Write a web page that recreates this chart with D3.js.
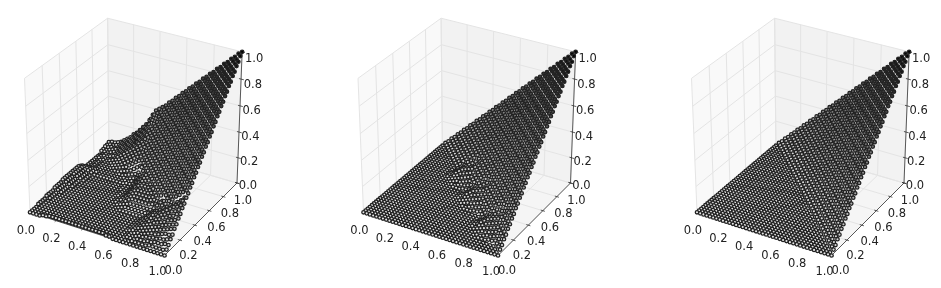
<!DOCTYPE html>
<html>
<head>
<meta charset="utf-8">
<script src="https://cdn.jsdelivr.net/npm/d3@7"></script>
<style>
  html, body { margin: 0; padding: 0; background: #fff; }
  svg { display: block; filter: blur(0.45px); }
  .dots { filter: blur(0.6px); }
  text { font-family: "DejaVu Sans", sans-serif; font-size: 11.5px; fill: #222; }
</style>
</head>
<body>
<div id="chart"></div>
<script>
var tickValues = [0, 0.2, 0.4, 0.6, 0.8, 1.0];
var tickLabels = ["0.0", "0.2", "0.4", "0.6", "0.8", "1.0"];

// surface height in hundredths, one row per y step (0..40), one column per x step (0..40)
var baseSurface = [
[0,0,0,0,0,0,0,0,0,0,0,0,0,0,0,0,0,0,0,0,0,0,0,0,0,0,0,0,0,0,0,0,0,0,0,0,0,0,0,0,0],
[0,0,0,0,0,0,0,0,0,0,0,0,0,0,0,0,0,0,0,0,0,0,0,0,0,0,0,0,0,0,0,0,0,0,0,0,0,0,0,0,3],
[0,0,0,0,0,0,0,0,0,0,0,0,0,0,0,0,0,0,0,0,0,0,0,0,0,0,0,0,0,0,0,0,0,0,0,0,0,0,0,3,5],
[0,0,0,0,0,0,0,0,0,0,0,0,0,0,0,0,0,0,0,0,0,0,0,0,0,0,0,0,0,0,0,0,0,0,0,0,0,0,3,5,8],
[0,0,0,0,0,0,0,0,0,0,0,0,0,0,0,0,0,0,0,0,0,0,0,0,0,0,0,0,0,0,0,0,0,0,0,0,0,3,5,8,10],
[0,0,0,0,0,0,0,0,0,0,0,0,0,0,0,0,0,0,0,0,0,0,0,0,0,0,0,0,0,0,0,0,0,0,0,0,3,5,8,10,13],
[0,0,0,0,0,0,0,0,0,0,0,0,0,0,0,0,0,0,0,0,0,0,0,0,0,0,0,0,0,0,0,0,0,0,0,3,5,8,10,13,15],
[0,0,0,0,0,0,0,0,0,0,0,0,0,0,0,0,0,0,0,0,0,0,0,0,0,0,0,0,0,0,0,0,0,0,3,5,8,10,13,15,18],
[0,0,0,0,0,0,0,0,0,0,0,0,0,0,0,0,0,0,0,0,0,0,0,0,0,0,0,0,0,0,0,0,0,3,5,8,10,13,15,18,20],
[0,0,0,0,0,0,0,0,0,0,0,0,0,0,0,0,0,0,0,0,0,0,0,0,0,0,0,0,0,0,0,0,3,5,8,10,13,15,18,20,23],
[0,0,0,0,0,0,0,0,0,0,0,0,0,0,0,0,0,0,0,0,0,0,0,0,0,0,0,0,0,0,0,3,5,8,10,13,15,18,20,23,25],
[0,0,0,0,0,0,0,0,0,0,0,0,0,0,0,0,0,0,0,0,0,0,0,0,0,0,0,0,0,0,3,5,8,10,13,15,18,20,23,25,28],
[0,0,0,0,0,0,0,0,0,0,0,0,0,0,0,0,0,0,0,0,0,0,0,0,0,0,0,0,0,3,5,8,10,13,15,18,20,23,25,28,30],
[0,0,0,0,0,0,0,0,0,0,0,0,0,0,0,0,0,0,0,0,0,0,0,0,0,0,0,0,3,5,8,10,13,15,18,20,23,25,28,30,33],
[0,0,0,0,0,0,0,0,0,0,0,0,0,0,0,0,0,0,0,0,0,0,0,0,0,0,0,3,5,8,10,13,15,18,20,23,25,28,30,33,35],
[0,0,0,0,0,0,0,0,0,0,0,0,0,0,0,0,0,0,0,0,0,0,0,0,0,0,3,5,8,10,13,15,18,20,23,25,28,30,33,35,38],
[0,0,0,0,0,0,0,0,0,0,0,0,0,0,0,0,0,0,0,0,0,0,0,0,0,3,5,8,10,13,15,18,20,23,25,28,30,33,35,38,40],
[0,0,0,0,0,0,0,0,0,0,0,0,0,0,0,0,0,0,0,0,0,0,0,0,3,5,8,10,13,15,18,20,23,25,28,30,33,35,38,40,43],
[0,0,0,0,0,0,0,0,0,0,0,0,0,0,0,0,0,0,0,0,0,0,0,3,5,8,10,13,15,18,20,23,25,28,30,33,35,38,40,43,45],
[0,0,0,0,0,0,0,0,0,0,0,0,0,0,0,0,0,0,0,0,0,0,3,5,8,10,13,15,18,20,23,25,28,30,33,35,38,40,43,45,48],
[0,0,0,0,0,0,0,0,0,0,0,0,0,0,0,0,0,0,0,0,0,3,5,8,10,13,15,18,20,23,25,28,30,33,35,38,40,43,45,48,50],
[0,0,0,0,0,0,0,0,0,0,0,0,0,0,0,0,0,0,0,0,3,5,8,10,13,15,18,20,23,25,28,30,33,35,38,40,43,45,48,50,53],
[0,0,0,0,0,0,0,0,0,0,0,0,0,0,0,0,0,0,0,3,5,8,10,13,15,18,20,23,25,28,30,33,35,38,40,43,45,48,50,53,55],
[0,0,0,0,0,0,0,0,0,0,0,0,0,0,0,0,0,0,3,5,8,10,13,15,18,20,23,25,28,30,33,35,38,40,43,45,48,50,53,55,58],
[0,0,0,0,0,0,0,0,0,0,0,0,0,0,0,0,0,3,5,8,10,13,15,18,20,23,25,28,30,33,35,38,40,43,45,48,50,53,55,58,60],
[0,0,0,0,0,0,0,0,0,0,0,0,0,0,0,0,3,5,8,10,13,15,18,20,23,25,28,30,33,35,38,40,43,45,48,50,53,55,58,60,63],
[0,0,0,0,0,0,0,0,0,0,0,0,0,0,0,3,5,8,10,13,15,18,20,23,25,28,30,33,35,38,40,43,45,48,50,53,55,58,60,63,65],
[0,0,0,0,0,0,0,0,0,0,0,0,0,0,3,5,8,10,13,15,18,20,23,25,28,30,33,35,38,40,43,45,48,50,53,55,58,60,63,65,68],
[0,0,0,0,0,0,0,0,0,0,0,0,0,3,5,8,10,13,15,18,20,23,25,28,30,33,35,38,40,43,45,48,50,53,55,58,60,63,65,68,70],
[0,0,0,0,0,0,0,0,0,0,0,0,3,5,8,10,13,15,18,20,23,25,28,30,33,35,38,40,43,45,48,50,53,55,58,60,63,65,68,70,73],
[0,0,0,0,0,0,0,0,0,0,0,3,5,8,10,13,15,18,20,23,25,28,30,33,35,38,40,43,45,48,50,53,55,58,60,63,65,68,70,73,75],
[0,0,0,0,0,0,0,0,0,0,3,5,8,10,13,15,18,20,23,25,28,30,33,35,38,40,43,45,48,50,53,55,58,60,63,65,68,70,73,75,78],
[0,0,0,0,0,0,0,0,0,3,5,8,10,13,15,18,20,23,25,28,30,33,35,38,40,43,45,48,50,53,55,58,60,63,65,68,70,73,75,78,80],
[0,0,0,0,0,0,0,0,3,5,8,10,13,15,18,20,23,25,28,30,33,35,38,40,43,45,48,50,53,55,58,60,63,65,68,70,73,75,78,80,83],
[0,0,0,0,0,0,0,3,5,8,10,13,15,18,20,23,25,28,30,33,35,38,40,43,45,48,50,53,55,58,60,63,65,68,70,73,75,78,80,83,85],
[0,0,0,0,0,0,3,5,8,10,13,15,18,20,23,25,28,30,33,35,38,40,43,45,48,50,53,55,58,60,63,65,68,70,73,75,78,80,83,85,88],
[0,0,0,0,0,3,5,8,10,13,15,18,20,23,25,28,30,33,35,38,40,43,45,48,50,53,55,58,60,63,65,68,70,73,75,78,80,83,85,88,90],
[0,0,0,0,3,5,8,10,13,15,18,20,23,25,28,30,33,35,38,40,43,45,48,50,53,55,58,60,63,65,68,70,73,75,78,80,83,85,88,90,93],
[0,0,0,3,5,8,10,13,15,18,20,23,25,28,30,33,35,38,40,43,45,48,50,53,55,58,60,63,65,68,70,73,75,78,80,83,85,88,90,93,95],
[0,0,3,5,8,10,13,15,18,20,23,25,28,30,33,35,38,40,43,45,48,50,53,55,58,60,63,65,68,70,73,75,78,80,83,85,88,90,93,95,98],
[0,3,5,8,10,13,15,18,20,23,25,28,30,33,35,38,40,43,45,48,50,53,55,58,60,63,65,68,70,73,75,78,80,83,85,88,90,93,95,98,100]
];

// left panel: [row, first column, heights that replace the base surface there]
var leftEdits = [
[0,4,[1,1,2,2,2,2,2,2,2,2,2,2,2,2,2,2,2,2,2,1,1]],
[4,0,[1]],[5,0,[1]],[6,0,[1]],[7,0,[1]],
[8,0,[2,1]],[9,0,[2,1]],[10,0,[2,1]],[11,0,[2,1]],
[12,0,[3,2,1]],[13,0,[3,2,1]],[14,0,[3,2,1]],[15,0,[3,2,1]],
[16,0,[4,3,2,1]],[17,0,[4,3,2,1]],[18,0,[4,3,2,1]],[19,0,[4,3,2,1]],
[20,0,[4,4,3,2,1]],[21,0,[4,4,3,2,1]],[22,0,[4,4,3,2,1]],[23,0,[4,4,3,2,1]],
// lower right fan, below the crease
[1,27,[0,0,0,1,1,1,1,1,2,2,2,2,2,3]],
[2,27,[0,1,1,1,2,2,2,3,3,4,4,4,5,5]],
[3,27,[0,1,1,2,3,3,4,4,5,5,6,6,7,8]],
[4,27,[0,1,2,3,3,4,5,6,6,7,8,9,9,10]],
[5,27,[1,2,2,3,4,5,6,7,8,9,10,11,12,13]],
[6,27,[1,2,3,4,5,6,7,8,9,11,12,13,14,15]],
[7,27,[1,2,3,5,6,7,9,10,11,12,14,15,16,18]],
[8,27,[1,2,4,5,7,8,10,11,13,14,16,17,19,20]],
[9,27,[1,3,4,6,8,9,11,13,14,16,18,19,21,23]],
[10,27,[1,3,5,7,9,10,12,14,16,18,20,21,23,25]],
[11,27,[1,3,5,7,9,10,12,14,16,18,20,22,25,28]],
[12,20,[1,1,1,1,1,1,1,1,3,5,7,9,11,13,15,17,19,21,23,26,30]],
// middle step
[13,18,[0,1,2,3,3,3,3,3,3,3,4,5,7,10]],
[14,15,[0,0,0,1,2,3,4,5,5,5,5,5,5,5,7]],
[15,15,[0,0,1,1,2,4,6,7,7,7,7,7,7,8,9,11,13]],
[16,15,[0,0,1,2,3,5,7,8,8,8,8,8,9,10,12]],
[17,15,[0,0,1,2,4,6,8,9,9,9,9,9,10,12]],
[18,15,[0,1,1,2,4,7,9,10,10,10,10,11,12]],
[19,15,[0,1,1,2,5,7,9,10,10,10,11,13]],
[20,15,[0,1,1,2,5,8,10,11,11,11,12]],
[21,15,[1,1,1,3,5,8,10,11,11,12]],
[22,15,[1,1,1,3,6,9,11,12,13]],
[23,15,[1,1,2,4,7,10,12,13,15]],
[24,0,[4,4,3,3,2,1,1,1,1,1,1,1,1,1,1,2,2,3,5,8,11,13,15]],
// upper left hollow
[25,0,[3,3,3,3,2,2,1,1,1,1,1,1,1,1,2,2,3,3,6,9,12,15]],
[26,0,[2,2,2,2,2,1,1,1,1,1,1,1,1,2,2,3,4,5,8,12]],
[27,0,[0,0,0,1,1,1,1,1,1,1,1,2,2,3,4,5,6,8]],
[28,0,[-1,-1,0,0,1,1,1,1,1,2,2,3,4,5,6,8,10,12]],
[29,0,[-1,-1,0,0,1,1,1,1,2,3,4,5,6,8,10,12,14,15]],
[30,0,[-1,-1,0,0,1,1,1,2,3,4,5,7,9,11,13,15,16,18]],
[31,0,[-1,-1,0,0,1,1,2,3,4,5,7,9,11,13,15,17,18,20]],
[32,0,[-1,-1,0,1,1,2,3,4,5,7,9,11,13,15,17,19,21,23]],
[33,0,[-1,0,0,1,1,2,3,5,7,9,11,13,15,17,19,21,23,25]],
[34,0,[-1,0,1,1,2,3,4,6,8,10,12,14,16,19,21,24,26,28]],
[35,0,[-1,0,1,1,2,3,5,7,9,11,13,15,18,20,23,26,28,30]],
[36,0,[1,1,1,2,3,4,6,8,10,12,14,16,19,22,25,28,30,33]],
[37,0,[1,1,2,3,4,5,7,9,11,13,15,18,21,24,27,30,33,35]],
[38,0,[2,2,3,3,4,6,8,10,12,14,17,20,23,26,30,34,36,38]],
[39,0,[2,3,3,4,5,7,9,11,13,16,19,22,25,28,33,37,39,40]],
[40,0,[3,4,4,5,6,8,10,12,15,17,20,23,26,30,35,39,41,43]]
];

// middle panel: one small fold, repeated along the crease at each anchor
var foldPatch = [
[4,32,[1,1,1,2,2,3]],
[5,30,[0,1,1,2,3,3,4,5]],
[6,29,[0,1,2,3,3,4,5,6,8]],
[7,28,[0,1,2,3,4,5,6,7,8,10]],
[8,27,[0,1,1,3,4,6,7,8,9,10]],
[9,27,[0,1,2,4,6,8,9,10,11,13]],
[10,28,[1,2,4,6,8,9,10,11,14,17]],
[11,29,[2,4,6,8,10,12,14,17]],
[12,30,[5,7,10,12,15]]
];
var foldShifts = [0, 10, 18];

var panelShifts = [0, 333.5, 667];

function applyEdits(table, edits, shift) {
    edits.forEach(function(e) {
        e[2].forEach(function(v, k) { table[e[0] + shift][e[1] - shift + k] = v; });
    });
}

var leftSurface = baseSurface.map(function(r) { return r.slice(); });
applyEdits(leftSurface, leftEdits, 0);
var middleSurface = baseSurface.map(function(r) { return r.slice(); });
foldShifts.forEach(function(s) { applyEdits(middleSurface, foldPatch, s); });
var surfaces = [leftSurface, middleSurface, baseSurface];

// same camera as a default 3d view: elevation 30, azimuth -60, distance 10
var elev = 30 * Math.PI / 180, azim = -60 * Math.PI / 180, dist = 10;
var viewN = [Math.cos(elev) * Math.cos(azim), Math.cos(elev) * Math.sin(azim), Math.sin(elev)];
var viewU = [-Math.sin(azim), Math.cos(azim), 0];
var viewV = [viewN[1] * viewU[2] - viewN[2] * viewU[1], viewN[2] * viewU[0] - viewN[0] * viewU[2], viewN[0] * viewU[1] - viewN[1] * viewU[0]];

function dot3(a, b) { return a[0] * b[0] + a[1] * b[1] + a[2] * b[2]; }

var screenX = d3.scaleLinear().domain([-1, 1]).range([135.1 - 155.3, 135.1 + 155.3]);
var screenY = d3.scaleLinear().domain([-1, 1]).range([132.8 + 153, 132.8 - 153]);
var gridStep = d3.scaleLinear().domain([0, 40]).range([0, 1]);
var zScale = d3.scaleLinear().domain([0, 100]).range([0, 1]);
// dots are filled by height, pale at the floor and black at the top
var fillScale = d3.scaleLinear().domain([0, 100]).range(["#e8e8e8", "#000000"]).clamp(true);

function project(x, y, z) {
    var d = [x - 0.5, y - 0.5, z - 0.5];
    var depth = dist - dot3(d, viewN);
    return {
        x: screenX(dot3(d, viewU) * dist / depth),
        y: screenY(dot3(d, viewV) * dist / depth),
        depth: depth
    };
}

var line3d = d3.line().x(function(p) { return p.x; }).y(function(p) { return p.y; });
function path3d(points) {
    return line3d(points.map(function(p) { return project(p[0], p[1], p[2]); }));
}

var svg = d3.select("#chart").append("svg").attr("width", 941).attr("height", 288);

surfaces.forEach(function(table, n) {
    var g = svg.append("g").attr("transform", "translate(" + panelShifts[n] + ",0)");

    // back panes
    g.append("path").attr("d", path3d([[0,0,0],[0,1,0],[0,1,1],[0,0,1]]) + "Z").attr("fill", "#f9f9f9");
    g.append("path").attr("d", path3d([[0,1,0],[1,1,0],[1,1,1],[0,1,1]]) + "Z").attr("fill", "#f2f2f2");
    g.append("path").attr("d", path3d([[0,0,0],[1,0,0],[1,1,0],[0,1,0]]) + "Z").attr("fill", "#f5f5f5");

    // grid lines
    tickValues.forEach(function(t) {
        [[[t,0,0],[t,1,0],[t,1,1]], [[0,t,1],[0,t,0],[1,t,0]], [[0,0,t],[0,1,t],[1,1,t]]].forEach(function(pts) {
            g.append("path").attr("d", path3d(pts)).attr("fill", "none")
                .attr("stroke", "#e4e4e4").attr("stroke-width", 1);
        });
    });

    // axes lines and ticks
    [[[0,0,0],[1,0,0]], [[1,0,0],[1,1,0]], [[1,1,0],[1,1,1]]].forEach(function(pts) {
        g.append("path").attr("d", path3d(pts)).attr("stroke", "#333").attr("stroke-width", 0.8).attr("fill", "none");
    });
    tickValues.forEach(function(t, k) {
        var xa = project(t, 0, 0), ya = project(1, t, 0), za = project(1, 1, t);
        [[[t,-0.015,0],[t,0.015,0]], [[0.985,t,0],[1.015,t,0]], [[0.985,1,t],[1.02,1,t]]].forEach(function(pts) {
            g.append("path").attr("d", path3d(pts)).attr("stroke", "#333").attr("stroke-width", 0.8);
        });
        g.append("text").attr("x", xa.x - 4 - 3 * t).attr("y", xa.y + 18 - 2 * t).attr("text-anchor", "middle")
            .attr("dominant-baseline", "central").text(tickLabels[k]);
        g.append("text").attr("x", ya.x + 9 - 3 * t).attr("y", ya.y + 14.5 + 2.5 * t).attr("text-anchor", "middle")
            .attr("dominant-baseline", "central").text(tickLabels[k]);
        g.append("text").attr("x", za.x + 11 + t).attr("y", za.y + 2 + 4 * t).attr("text-anchor", "middle")
            .attr("dominant-baseline", "central").text(tickLabels[k]);
    });

    // surface dots, far ones first
    var dots = [];
    table.forEach(function(row, j) {
        row.forEach(function(v, i) {
            var p = project(gridStep(i), gridStep(j), zScale(v));
            p.v = v;
            dots.push(p);
        });
    });
    dots.sort(function(a, b) { return b.depth - a.depth; });
    g.append("g").attr("class", "dots").selectAll("circle").data(dots).enter().append("circle")
        .attr("cx", function(d) { return d.x; })
        .attr("cy", function(d) { return d.y; })
        .attr("r", 1.7)
        .attr("fill", function(d) { return fillScale(d.v); })
        .attr("stroke", "#222")
        .attr("stroke-width", 1.3);
});
</script>
</body>
</html>
